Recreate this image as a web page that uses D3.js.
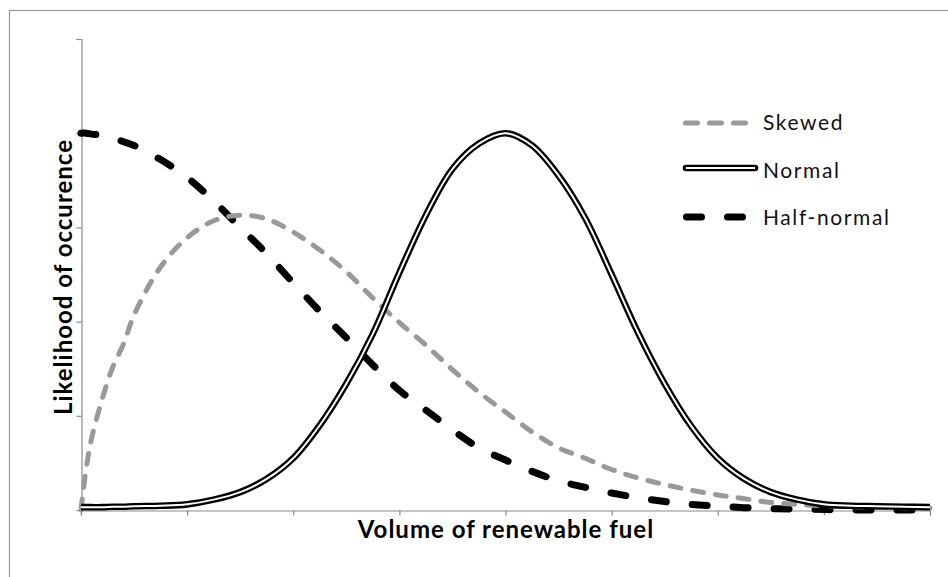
<!DOCTYPE html>
<html>
<head>
<meta charset="utf-8">
<script src="https://cdn.jsdelivr.net/npm/d3@7"></script>
<style>
  html, body { margin: 0; padding: 0; background: #fff; }
  svg { display: block; }
</style>
</head>
<body>
<svg id="chart" width="948" height="577"></svg>
<script>
// ---- data ----
const xValues = [0, 0.05, 0.1, 0.2, 0.3, 0.4, 0.5, 0.75, 1, 1.25, 1.5, 1.75, 2, 2.25, 2.5, 2.75, 3, 3.25, 3.5, 3.75, 4,
                 4.25, 4.5, 4.75, 5, 5.25, 5.5, 5.75, 6, 6.25, 6.5, 6.75, 7, 7.25, 7.5, 7.75, 8];
const skewedValues = [0, 0.45, 0.76, 1.18, 1.52, 1.76, 2.07, 2.58, 2.89, 3.07, 3.13, 3.09, 2.95, 2.76, 2.53, 2.25, 1.99, 1.75, 1.49, 1.25, 1.04,
                      0.83, 0.66, 0.55, 0.43, 0.34, 0.27, 0.21, 0.16, 0.12, 0.08, 0.06, 0.045, 0.035, 0.03, 0.025, 0.02];
const normalValues = [0.03, 0.03, 0.03, 0.03, 0.035, 0.035, 0.04, 0.045, 0.06, 0.11, 0.19, 0.33, 0.55, 0.90, 1.34, 1.87, 2.52, 3.13, 3.62, 3.89, 4.0,
                      3.87, 3.55, 3.10, 2.50, 1.88, 1.34, 0.89, 0.55, 0.33, 0.19, 0.11, 0.06, 0.045, 0.04, 0.035, 0.03];
const halfNormalValues = [4.0, 4.0, 3.99, 3.98, 3.95, 3.91, 3.87, 3.72, 3.53, 3.28, 3.00, 2.72, 2.41, 2.11, 1.83, 1.54, 1.27, 1.06, 0.85, 0.66, 0.53,
                          0.41, 0.31, 0.24, 0.18, 0.13, 0.09, 0.06, 0.04, 0.025, 0.015, 0.01, 0.005, 0, 0, 0, 0];
const xTicks = [0, 1, 2, 3, 4, 5, 6, 7, 8];
const yTicks = [0, 1, 2, 3, 4, 5];
const seriesNames = ["Skewed", "Normal", "Half-normal"];
const xTitle = "Volume of renewable fuel";
const yTitle = "Likelihood of occurence";

// ---- layout ----
const svg = d3.select("#chart");
const x = d3.scaleLinear().domain([0, 8]).range([81, 930]);
const y = d3.scaleLinear().domain([0, 5]).range([510, 39]);
const axisColor = "#8a8a8a";
const fontFam = "Lato, 'Open Sans', sans-serif";

// outer frame
svg.append("rect").attr("x", 9.5).attr("y", 10.5).attr("width", 980).attr("height", 620)
  .attr("fill", "none").attr("stroke", "#9a9a9a").attr("stroke-width", 1.2);

// axes
const xAxis = svg.append("g").attr("transform", "translate(0,510.5)")
  .call(d3.axisBottom(x).tickValues(xTicks).tickSize(5).tickFormat(""));
const yAxis = svg.append("g").attr("transform", "translate(81.5,0)")
  .call(d3.axisLeft(y).tickValues(yTicks).tickSize(5).tickFormat(""));
[xAxis, yAxis].forEach(g => {
  g.select(".domain").attr("stroke", axisColor).attr("stroke-width", 1.2);
  g.selectAll(".tick line").attr("stroke", axisColor).attr("stroke-width", 1.2);
});

const pts = vals => xValues.map((xv, i) => [xv, vals[i]]);
const line = d3.line().x(d => x(d[0])).y(d => y(d[1])).curve(d3.curveCatmullRom.alpha(0.5));

// half-normal (black dashes)
svg.append("path").datum(pts(halfNormalValues)).attr("d", line)
  .attr("fill", "none").attr("stroke", "#000").attr("stroke-width", 7)
  .attr("stroke-dasharray", "15,26").attr("stroke-linecap", "round");

// skewed (grey dashes)
svg.append("path").datum(pts(skewedValues)).attr("d", line)
  .attr("fill", "none").attr("stroke", "#999").attr("stroke-width", 5)
  .attr("stroke-dasharray", "11,12").attr("stroke-linecap", "round");

// normal (double line)
svg.append("path").datum(pts(normalValues)).attr("d", line)
  .attr("fill", "none").attr("stroke", "#000").attr("stroke-width", 6.6);
svg.append("path").datum(pts(normalValues)).attr("d", line)
  .attr("fill", "none").attr("stroke", "#fff").attr("stroke-width", 2);

// legend
const lg = svg.append("g");
const lx0 = 683, lx1 = 750;
lg.append("line").attr("x1", lx0 + 2.5).attr("x2", lx1).attr("y1", 123).attr("y2", 123)
  .attr("stroke", "#999").attr("stroke-width", 5).attr("stroke-dasharray", "12,12").attr("stroke-linecap", "round");
lg.append("line").attr("x1", lx0 + 3).attr("x2", 755).attr("y1", 168).attr("y2", 168)
  .attr("stroke", "#000").attr("stroke-width", 6.6).attr("stroke-linecap", "round");
lg.append("line").attr("x1", lx0 + 3).attr("x2", 755).attr("y1", 168).attr("y2", 168)
  .attr("stroke", "#fff").attr("stroke-width", 2);
lg.append("line").attr("x1", lx0 + 3.5).attr("x2", lx1).attr("y1", 217).attr("y2", 217)
  .attr("stroke", "#000").attr("stroke-width", 7).attr("stroke-dasharray", "15,26").attr("stroke-linecap", "round");
const legendY = [130, 178, 225];
seriesNames.forEach((n, i) => {
  lg.append("text").attr("x", 763).attr("y", legendY[i]).text(n)
    .attr("font-family", fontFam).attr("font-size", 21)
    .attr("letter-spacing", 1.6).attr("fill", "#111");
});

// axis titles
svg.append("text").attr("x", 506).attr("y", 538).attr("text-anchor", "middle")
  .attr("font-family", fontFam).attr("font-weight", "bold").attr("font-size", 24)
  .attr("letter-spacing", 1).attr("fill", "#000").text(xTitle);
svg.append("text").attr("transform", "translate(72,277) rotate(-90)").attr("text-anchor", "middle")
  .attr("font-family", fontFam).attr("font-weight", "bold").attr("font-size", 24)
  .attr("letter-spacing", 1).attr("fill", "#000").text(yTitle);
</script>
</body>
</html>
